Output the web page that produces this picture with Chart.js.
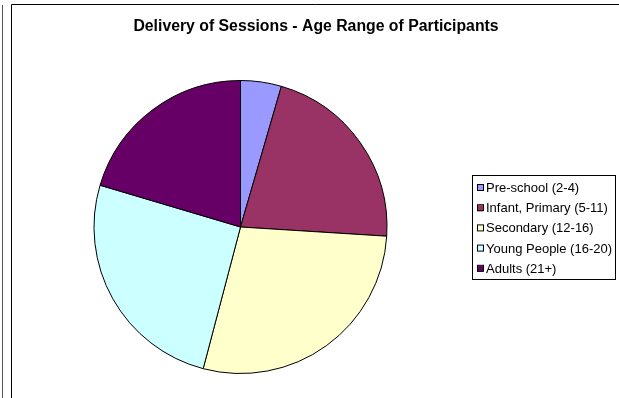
<!DOCTYPE html>
<html>
<head>
<meta charset="utf-8">
<title>Delivery of Sessions - Age Range of Participants</title>
<script src="https://cdn.jsdelivr.net/npm/chart.js@4/dist/chart.umd.min.js"></script>
<style>
  html, body { margin: 0; padding: 0; background: #ffffff; }
  #wrap { width: 619px; height: 398px; position: relative; }
</style>
</head>
<body>
<div id="wrap"><canvas id="chart"></canvas></div>
<script>
// Age groups and their share of delivered sessions (%)
const categories = ['Pre-school (2-4)', 'Infant, Primary (5-11)', 'Secondary (12-16)', 'Young People (16-20)', 'Adults (21+)'];
const sessionShare = [4.5, 21.5, 28.1, 25.5, 20.4];
const sliceColors = ['#9999FF', '#993366', '#FFFFCC', '#CCFFFF', '#660066'];
const chartTitle = 'Delivery of Sessions - Age Range of Participants';

// Frame lines, title and boxed legend drawn around the pie
const decorations = {
  id: 'decorations',
  beforeDraw(chart) {
    const ctx = chart.ctx;
    ctx.save();
    ctx.fillStyle = '#ffffff';
    ctx.fillRect(0, 0, chart.width, chart.height);
    // outer page edge
    ctx.strokeStyle = '#555555';
    ctx.lineWidth = 1;
    ctx.beginPath();
    ctx.moveTo(2.5, 5);
    ctx.lineTo(2.5, chart.height);
    ctx.stroke();
    // chart frame (left and top edges)
    ctx.strokeStyle = '#000000';
    ctx.beginPath();
    ctx.moveTo(11.5, chart.height);
    ctx.lineTo(11.5, 4.5);
    ctx.lineTo(chart.width, 4.5);
    ctx.stroke();
    ctx.restore();
  },
  afterDraw(chart) {
    const ctx = chart.ctx;
    ctx.save();
    // title
    ctx.fillStyle = '#000000';
    ctx.font = 'bold 15.8px "Liberation Sans", Arial, sans-serif';
    ctx.textAlign = 'center';
    ctx.textBaseline = 'middle';
    ctx.fillText(chartTitle, 316, 27);

    // legend box
    const bx = 472.5, by = 175.5, bw = 143, bh = 104;
    ctx.strokeStyle = '#000000';
    ctx.lineWidth = 1;
    ctx.strokeRect(bx, by, bw, bh);

    const labels = chart.data.labels;
    const colors = chart.data.datasets[0].backgroundColor;
    ctx.font = '13px "Liberation Sans", Arial, sans-serif';
    ctx.textAlign = 'left';
    ctx.textBaseline = 'middle';
    labels.forEach((lab, i) => {
      const cy = 188 + i * 20.2;
      ctx.fillStyle = colors[i];
      ctx.fillRect(477, cy - 3, 6, 6);
      ctx.strokeStyle = '#000000';
      ctx.strokeRect(477.5, cy - 3.5, 6, 6);
      ctx.fillStyle = '#000000';
      ctx.fillText(lab, 486, cy + 0.5);
    });
    ctx.restore();
  }
};

new Chart(document.getElementById('chart'), {
  type: 'pie',
  data: {
    labels: categories,
    datasets: [{
      data: sessionShare,
      backgroundColor: sliceColors,
      borderColor: '#000000',
      borderWidth: 1,
      hoverOffset: 0
    }]
  },
  options: {
    responsive: true,
    maintainAspectRatio: false,
    animation: false,
    events: [],
    rotation: 0,
    layout: {
      padding: { left: 93.5, right: 231.5, top: 80, bottom: 24 }
    },
    plugins: {
      legend: { display: false },
      title: { display: false },
      tooltip: { enabled: false }
    }
  },
  plugins: [decorations]
});
</script>
</body>
</html>
